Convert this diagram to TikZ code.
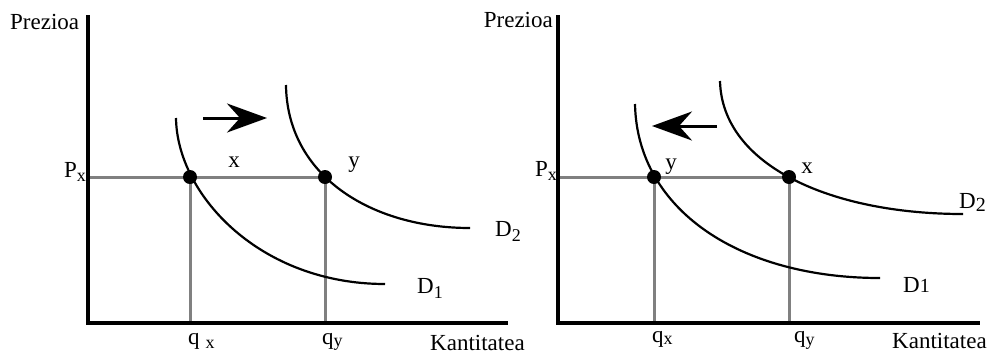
\documentclass[tikz,border=0pt]{standalone}
\usepackage{fontspec}
\setmainfont{Liberation Serif}
\usepackage{tikz}
\usetikzlibrary{arrows.meta}
\definecolor{guidegray}{HTML}{808080}

\begin{document}
\begin{tikzpicture}[x=1pt, y=-1pt,
    axis/.style={line width=3.4pt},
    demand/.style={line width=2.2pt},
    guide/.style={line width=3pt, guidegray},
    eqpt/.style={circle, fill=black, inner sep=0pt, minimum size=14pt},
    lbl/.style={inner sep=0pt, font=\fontsize{23}{26}\selectfont},
    shiftarr/.style={-{Stealth[length=40pt, width=29pt, inset=13pt]}, line width=3pt},
]
    \useasboundingbox (0,0) rectangle (1000,357);

    % === left: demand rises ===
    \coordinate (ltop) at (88,15);
    \coordinate (lorig) at (88,323);
    \coordinate (lend) at (508,323);
    \coordinate (lx) at (190,177);
    \coordinate (ly) at (325,177);

    \draw[guide] (ltop |- lx) -- (ly);
    \draw[guide] (lx) -- (lx |- lorig);
    \draw[guide] (ly) -- (ly |- lorig);
    \draw[axis] (ltop) -- (lorig) -- (lend);

    \coordinate (ld1s) at (176,118);
    \coordinate (ld1e) at (385,284);
    \coordinate (ld2s) at (286,85);
    \coordinate (ld2e) at (470,228);
    \draw[demand] (ld1s) .. controls (177,195) and (260,284) .. (ld1e);
    \draw[demand] (ld2s) .. controls (287,175) and (370,228) .. (ld2e);

    \node[eqpt] (lxdot) at (lx) {};
    \node[eqpt] (lydot) at (ly) {};

    \coordinate (lfrom) at (203,118);
    \coordinate (lto) at (267,118);
    \draw[shiftarr] (lfrom) -- (lto);

    \node[lbl, anchor=base west] (lprice) at (10,29) {Prezioa};
    \node[lbl, anchor=base west] (lqty) at (430,350) {Kantitatea};
    \node[lbl, anchor=base east] (lpx) at (86,177) {P\raisebox{-4pt}{\fontsize{18}{18}\selectfont x}};
    \node[lbl, anchor=base] (lxlbl) at (234,167) {x};
    \node[lbl, anchor=base] (lylbl) at (354,167) {y};
    \node[lbl, anchor=base west] (lqx) at (188,344) {q\hspace{6pt}\raisebox{-4pt}{\fontsize{18}{18}\selectfont x}};
    \node[lbl, anchor=base west] (lqy) at (322,344) {q\raisebox{-2pt}{\fontsize{18}{18}\selectfont y}};
    \node[lbl, anchor=base west] (ld1) at (417,293) {D\raisebox{-5pt}{\fontsize{18}{18}\selectfont 1}};
    \node[lbl, anchor=base west] (ld2) at (495,236) {D\raisebox{-5pt}{\fontsize{18}{18}\selectfont 2}};

    % === right: demand falls ===
    \coordinate (rtop) at (558,15);
    \coordinate (rorig) at (558,323);
    \coordinate (rend) at (980,323);
    \coordinate (ry) at (654,177);
    \coordinate (rx) at (789,177);

    \draw[guide] (rtop |- ry) -- (rx);
    \draw[guide] (ry) -- (ry |- rorig);
    \draw[guide] (rx) -- (rx |- rorig);
    \draw[axis] (rtop) -- (rorig) -- (rend);

    \coordinate (rd1s) at (635,104);
    \coordinate (rd1e) at (880,278);
    \coordinate (rd2s) at (720,81);
    \coordinate (rd2e) at (963,214);
    \draw[demand] (rd1s) .. controls (637,210) and (740,278) .. (rd1e);
    \draw[demand] (rd2s) .. controls (722,165) and (830,214) .. (rd2e);

    \node[eqpt] (rydot) at (ry) {};
    \node[eqpt] (rxdot) at (rx) {};

    \coordinate (rfrom) at (717,126);
    \coordinate (rto) at (652,126);
    \draw[shiftarr] (rfrom) -- (rto);

    \node[lbl, anchor=base east] (rprice) at (553,27) {Prezioa};
    \node[lbl, anchor=base west] (rqty) at (892,348) {Kantitatea};
    \node[lbl, anchor=base east] (rpx) at (557,176) {P\raisebox{-4pt}{\fontsize{18}{18}\selectfont x}};
    \node[lbl, anchor=base] (rylbl) at (671,169) {y};
    \node[lbl, anchor=base] (rxlbl) at (807,173) {x};
    \node[lbl, anchor=base west] (rqx) at (652,342) {q\raisebox{-2pt}{\fontsize{18}{18}\selectfont x}};
    \node[lbl, anchor=base west] (rqy) at (794,342) {q\raisebox{-3pt}{\fontsize{18}{18}\selectfont y}};
    \node[lbl, anchor=base west] (rd1) at (903,292) {D{\fontsize{20}{20}\selectfont 1}};
    \node[lbl, anchor=base west] (rd2) at (959,208) {D\raisebox{-3pt}{\fontsize{20}{20}\selectfont 2}};
\end{tikzpicture}
\end{document}
